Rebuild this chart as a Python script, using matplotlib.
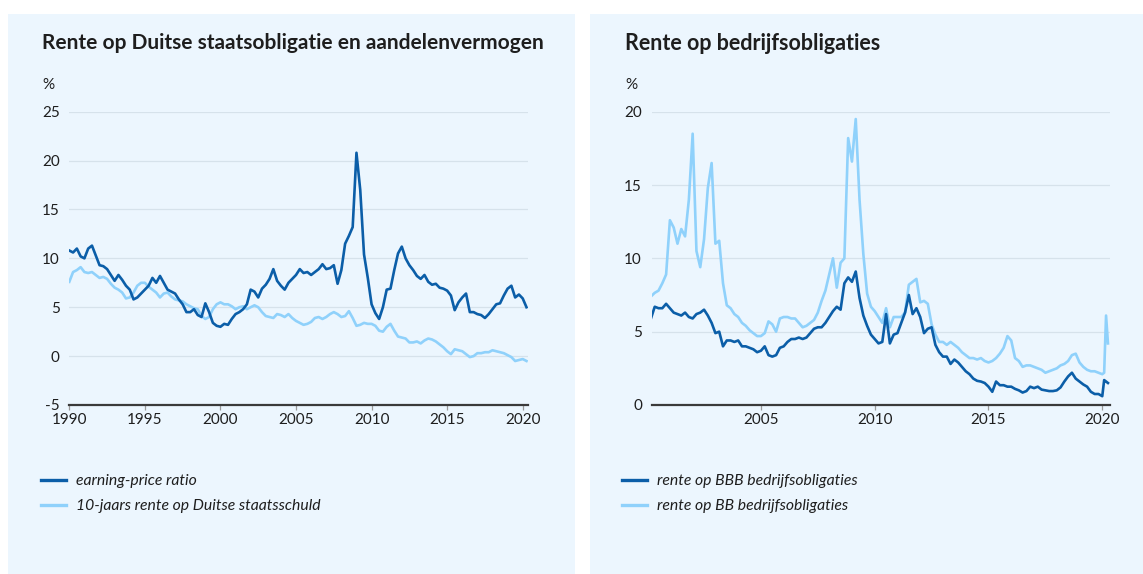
import numpy as np
import matplotlib
matplotlib.use("Agg")
import matplotlib.pyplot as plt
from matplotlib.patches import Rectangle

plt.rcParams['font.family'] = ['Lato', 'DejaVu Sans']

# ---------------- data: left panel (quarterly, 1990.00 - 2020.25) ----------------
years_left = 1990 + np.arange(122) / 4.0
earning_price = [
    10.8, 10.6, 11.0, 10.2, 10.0, 11.0, 11.3, 10.3, 9.3, 9.2, 8.9, 8.3,
    7.7, 8.3, 7.8, 7.2, 6.8, 5.8, 6.0, 6.4, 6.8, 7.2, 8.0, 7.5,
    8.2, 7.5, 6.8, 6.6, 6.4, 5.8, 5.3, 4.5, 4.5, 4.8, 4.2, 4.0,
    5.4, 4.5, 3.4, 3.1, 3.0, 3.3, 3.2, 3.8, 4.3, 4.5, 4.8, 5.3,
    6.8, 6.6, 6.0, 6.9, 7.3, 7.9, 8.9, 7.7, 7.2, 6.8, 7.5, 7.9,
    8.3, 8.9, 8.5, 8.6, 8.3, 8.6, 8.9, 9.4, 8.9, 9.0, 9.3, 7.4,
    8.8, 11.5, 12.3, 13.2, 20.8, 17.0, 10.4, 8.0, 5.3, 4.4, 3.8, 5.0,
    6.8, 6.9, 8.8, 10.5, 11.2, 10.0, 9.3, 8.8, 8.2, 7.9, 8.3, 7.6,
    7.3, 7.4, 7.0, 6.9, 6.7, 6.2, 4.7, 5.5, 6.0, 6.4, 4.5, 4.5,
    4.3, 4.2, 3.9, 4.3, 4.8, 5.3, 5.4, 6.2, 6.9, 7.2, 6.0, 6.3,
    5.9, 5.0,
]
bund_10y = [
    7.6, 8.6, 8.8, 9.1, 8.6, 8.5, 8.6, 8.3, 8.0, 8.1, 7.9, 7.4,
    7.0, 6.8, 6.5, 5.9, 6.0, 6.5, 7.2, 7.5, 7.5, 7.1, 6.8, 6.5,
    6.0, 6.4, 6.5, 6.1, 5.8, 5.7, 5.6, 5.3, 5.1, 4.9, 4.8, 4.1,
    3.8, 4.0, 4.8, 5.3, 5.5, 5.3, 5.3, 5.1, 4.8, 5.0, 5.1, 4.8,
    5.0, 5.2, 5.0, 4.5, 4.1, 4.0, 3.9, 4.3, 4.2, 4.0, 4.3, 3.9,
    3.6, 3.4, 3.2, 3.3, 3.5, 3.9, 4.0, 3.8, 4.0, 4.3, 4.5, 4.3,
    4.0, 4.1, 4.6, 3.9, 3.1, 3.2, 3.4, 3.3, 3.3, 3.1, 2.6, 2.5,
    3.0, 3.3, 2.6, 2.0, 1.9, 1.8, 1.4, 1.4, 1.5, 1.3, 1.6, 1.8,
    1.7, 1.5, 1.2, 0.9, 0.5, 0.2, 0.7, 0.6, 0.5, 0.2, -0.1, 0.0,
    0.3, 0.3, 0.4, 0.4, 0.6, 0.5, 0.4, 0.3, 0.1, -0.1, -0.5, -0.4,
    -0.3, -0.5,
]

# ---------------- data: right panel (bi-monthly from 2000.17, monthly at end) ----------------
years_right = list(2000 + 1 / 6 + np.arange(120) / 6.0) + [2020 + 1 / 12, 2020 + 2 / 12, 2020 + 3 / 12]
bbb_yield = [
    5.9, 6.7, 6.6, 6.6, 6.9, 6.6, 6.3, 6.2, 6.1, 6.3, 6.0, 5.9,
    6.2, 6.3, 6.5, 6.1, 5.6, 4.9, 5.0, 4.0, 4.4, 4.4, 4.3, 4.4,
    4.0, 4.0, 3.9, 3.8, 3.6, 3.7, 4.0, 3.4, 3.3, 3.4, 3.9, 4.0,
    4.3, 4.5, 4.5, 4.6, 4.5, 4.6, 4.9, 5.2, 5.3, 5.3, 5.6, 6.0,
    6.4, 6.7, 6.5, 8.3, 8.7, 8.4, 9.1, 7.3, 6.1, 5.4, 4.8, 4.5,
    4.2, 4.3, 6.2, 4.2, 4.8, 4.9, 5.6, 6.3, 7.5, 6.2, 6.6, 6.0,
    4.9, 5.2, 5.3, 4.1, 3.6, 3.3, 3.3, 2.8, 3.1, 2.9, 2.6, 2.3,
    2.1, 1.8, 1.65, 1.6, 1.5, 1.25, 0.9, 1.6, 1.35, 1.35, 1.25, 1.25,
    1.1, 1.0, 0.85, 0.95, 1.25, 1.15, 1.25, 1.05, 1.0, 0.95, 0.95, 1.0,
    1.2, 1.6, 1.95, 2.2, 1.8, 1.6, 1.4, 1.25, 0.9, 0.75, 0.75, 0.6,
    1.7, 1.6, 1.5,
]
bb_yield = [
    7.4, 7.65, 7.8, 8.3, 8.9, 12.6, 12.1, 11.0, 12.0, 11.5, 14.0, 18.5,
    10.5, 9.4, 11.3, 14.8, 16.5, 11.0, 11.2, 8.3, 6.8, 6.6, 6.2, 6.0,
    5.6, 5.4, 5.1, 4.9, 4.7, 4.7, 4.9, 5.7, 5.5, 5.0, 5.9, 6.0,
    6.0, 5.9, 5.9, 5.6, 5.3, 5.4, 5.6, 5.8, 6.3, 7.1, 7.8, 8.9,
    10.0, 8.0, 9.7, 10.0, 18.2, 16.6, 19.5, 14.0, 10.3, 7.6, 6.7, 6.4,
    6.0, 5.6, 6.6, 5.3, 6.0, 6.0, 6.0, 6.3, 8.2, 8.4, 8.6, 7.0,
    7.1, 6.9, 5.5, 4.8, 4.3, 4.3, 4.1, 4.3, 4.1, 3.9, 3.6, 3.4,
    3.2, 3.2, 3.1, 3.2, 3.0, 2.9, 3.0, 3.2, 3.5, 3.9, 4.7, 4.4,
    3.2, 3.0, 2.6, 2.7, 2.7, 2.6, 2.5, 2.4, 2.2, 2.3, 2.4, 2.5,
    2.7, 2.8, 3.0, 3.4, 3.5, 2.9, 2.6, 2.4, 2.3, 2.3, 2.2, 2.1,
    2.2, 6.1, 4.2,
]

left_title = "Rente op Duitse staatsobligatie en aandelenvermogen"
right_title = "Rente op bedrijfsobligaties"
left_labels = ["earning-price ratio", "10-jaars rente op Duitse staatsschuld"]
right_labels = ["rente op BBB bedrijfsobligaties", "rente op BB bedrijfsobligaties"]
left_xticks = [1990, 1995, 2000, 2005, 2010, 2015, 2020]
left_yticks = [-5, 0, 5, 10, 15, 20, 25]
right_xticks = [2005, 2010, 2015, 2020]
right_yticks = [0, 5, 10, 15, 20]

# ---------------- styling ----------------
W, H = 1143, 574
DARK = '#0b5ea8'
LIGHT = '#8fd1fb'
BG = '#ecf6fe'
GRID = '#d6e2eb'
TXT = '#1e1e1e'

fig = plt.figure(figsize=(W / 100, H / 100), dpi=100)
fig.patch.set_facecolor('white')

def fx(px):
    return px / W

def fy(py):
    return 1 - py / H

# panel backgrounds
fig.patches.append(Rectangle((fx(8), 0), fx(575) - fx(8), fy(14), transform=fig.transFigure,
                             facecolor=BG, edgecolor='none', zorder=-5))
fig.patches.append(Rectangle((fx(590), 0), 1 - fx(590), fy(14), transform=fig.transFigure,
                             facecolor=BG, edgecolor='none', zorder=-5))

def style_axes(ax, xlim, ylim, xticks, yticks):
    ax.set_facecolor('none')
    ax.set_xlim(*xlim)
    ax.set_ylim(*ylim)
    ax.set_xticks(xticks)
    ax.set_xticklabels([str(t) for t in xticks])
    ax.set_yticks(yticks)
    ax.set_yticklabels([str(t) for t in yticks])
    for s in ['left', 'right', 'top']:
        ax.spines[s].set_visible(False)
    ax.spines['bottom'].set_color('#3a3a3a')
    ax.spines['bottom'].set_linewidth(1.6)
    ax.spines['bottom'].set_zorder(5)
    ax.grid(axis='y', color=GRID, linewidth=0.9)
    ax.set_axisbelow(True)
    ax.tick_params(axis='y', length=0, pad=7, labelsize=11, labelcolor=TXT)
    ax.tick_params(axis='x', length=3.5, width=0.9, color='#9a9a9a', pad=2, labelsize=11, labelcolor=TXT)

# left axes
axL = fig.add_axes([fx(69.3), fy(405), fx(527.7) - fx(69.3), fy(111.7) - fy(405)])
style_axes(axL, (1990, 2020.33), (-5, 25), left_xticks, left_yticks)
axL.plot(years_left, earning_price, color=DARK, lw=1.9, label=left_labels[0], zorder=3, solid_joinstyle='round')
axL.plot(years_left, bund_10y, color=LIGHT, lw=1.9, label=left_labels[1], zorder=2, solid_joinstyle='round')

# right axes
axR = fig.add_axes([fx(651.7), fy(405), fx(1110) - fx(651.7), fy(111.7) - fy(405)])
style_axes(axR, (2000.2, 2020.34), (0, 20), right_xticks, right_yticks)
axR.plot(years_right, bb_yield, color=LIGHT, lw=1.9, label=right_labels[1], zorder=2, solid_joinstyle='round')
axR.plot(years_right, bbb_yield, color=DARK, lw=1.9, label=right_labels[0], zorder=3, solid_joinstyle='round')

# titles
fig.text(fx(42), fy(43), left_title, fontsize=15, fontweight='bold', color=TXT, va='center', ha='left')
fig.text(fx(625), fy(43), right_title, fontsize=15.5, fontweight='bold', color=TXT, va='center', ha='left')
# unit labels
fig.text(fx(42), fy(85), "%", fontsize=11, color=TXT, va='center', ha='left')
fig.text(fx(625), fy(85), "%", fontsize=11, color=TXT, va='center', ha='left')

# legends
def add_legend(ax, x_px, handles_order):
    hs, ls = ax.get_legend_handles_labels()
    order = [ls.index(l) for l in handles_order]
    leg = fig.legend([hs[i] for i in order], [ls[i] for i in order],
                     loc='upper left', bbox_to_anchor=(fx(x_px), fy(474)),
                     bbox_transform=fig.transFigure, frameon=False,
                     borderpad=0, borderaxespad=0, handlelength=1.6, handletextpad=0.6,
                     labelspacing=0.72, prop={'size': 11.3, 'style': 'italic'})
    for t in leg.get_texts():
        t.set_color(TXT)
    for l in leg.get_lines():
        l.set_linewidth(2.4)
    return leg

add_legend(axL, 41, left_labels)
add_legend(axR, 622, right_labels)

fig.savefig('out.png', dpi=100, facecolor='white')
